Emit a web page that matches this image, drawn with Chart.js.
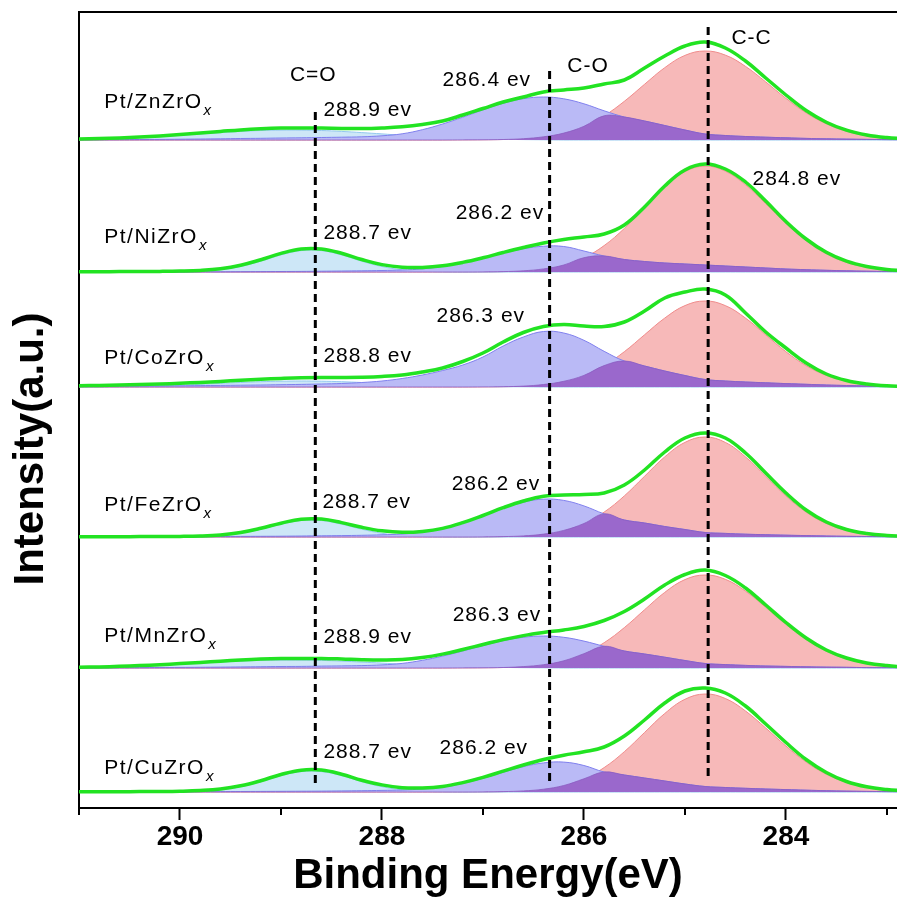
<!DOCTYPE html>
<html>
<head>
<meta charset="utf-8">
<title>C 1s XPS</title>
<script src="https://cdn.jsdelivr.net/npm/chart.js@4.4.1/dist/chart.umd.min.js"></script>
<style>
  body { margin: 0; background: #fff; }
</style>
</head>
<body>
<canvas id="xps" width="897" height="902"></canvas>
<script>
// binding energy grid (eV), shared by every curve
const energies = [291.0, 290.8, 290.6, 290.4, 290.2, 290.0, 289.8, 289.6, 289.4, 289.2,
                  289.0, 288.8, 288.6, 288.4, 288.2, 288.0, 287.8, 287.6, 287.4, 287.2,
                  287.0, 286.8, 286.6, 286.4, 286.2, 286.0, 285.8, 285.6, 285.4, 285.2,
                  285.0, 284.8, 284.6, 284.4, 284.2, 284.0, 283.8, 283.6, 283.4, 283.2,
                  283.0, 282.8];

const sampleNames = ['Pt/ZnZrO', 'Pt/NiZrO', 'Pt/CoZrO', 'Pt/FeZrO', 'Pt/MnZrO', 'Pt/CuZrO'];
// vertical stacking offset of each spectrum (a.u.)
const offsets = [668, 536, 421, 271, 140, 16];

// Pt/ZnZrOx
const ccZn  = [0,0,0,0,0,0,0,0,0,0,0,0,0,0,0,0,0,0,0,0.1,0.2,0.5,1.3,3.2,6.9,13.7,24.2,38.7,55.7,72.3,84.6,89,84.9,73.6,58.1,41.7,27.2,16.2,8.7,4.3,2.0,0.8];
const coZn  = [0.2,0.3,0.4,0.5,0.6,0.8,1.0,1.2,1.5,1.7,2.0,2.2,2.5,2.8,3.2,4.2,6.2,10.3,16.0,22.8,30.1,36.7,41.3,43,41.2,36.2,29.2,23,19,14.5,10,6,4.5,3.5,2.8,2.2,1.6,1.2,0.9,0.6,0.4,0.3];
const cdoZn = [0.7,1.1,1.7,2.5,3.5,4.7,6.1,7.4,8.6,9.5,9.9,9.9,9.5,8.6,7.4,6.1,4.7,3.5,2.5,1.7,1.1,0.7,0.4,0.2,0,0,0,0,0,0,0,0,0,0,0,0,0,0,0,0,0,0];
const envZn = [1.0,1.4,2.1,3.0,4.1,5.5,7.1,8.6,10.1,11.2,11.9,12.1,12.0,11.6,11.4,12.0,13.2,15.5,19,25,31.5,38,43,48,50,52,56,60,72,84,94,98,92,79,62,45,29.5,17.8,9.8,5,2.4,1.1];

// Pt/NiZrOx
const ccNi  = [0,0,0,0,0,0,0,0,0,0,0,0,0,0,0,0,0,0,0,0,0.1,0.4,1.2,3.1,7.0,14.3,26.4,43.6,64.3,84.9,100.3,106,100.9,87.3,68.3,48.5,31.3,18.2,9.6,4.7,2.0,0.8];
const coNi  = [0.1,0.1,0.1,0.1,0.1,0.1,0.2,0.2,0.3,0.4,0.5,0.6,0.8,1.0,1.2,1.5,2,3.1,5.7,9.4,14.0,19.0,23.2,25.8,25.5,21,16,12.5,10.5,9,8,7,6,5,4,3,2.3,1.7,1.2,0.8,0.5,0.3];
const cdoNi = [0,0,0,0,0,0.2,0.7,2.2,5.5,10.8,17.1,21.4,21.4,17.1,10.8,5.5,2.2,0.7,0.2,0,0,0,0,0,0,0,0,0,0,0,0,0,0,0,0,0,0,0,0,0,0,0];
const envNi = [0.3,0.3,0.4,0.5,0.6,0.9,1.6,3.3,6.8,12.3,18.6,23,23,18.7,12.5,7.4,4.8,4.6,6.2,9.6,14.2,19.5,24.5,29,32.5,35,38,47,65,86,102,108,103,90,71,50.5,33,19.7,10.8,5.5,2.5,1.1];

// Pt/CoZrOx
const ccCo  = [0,0,0,0,0,0,0,0,0,0,0,0,0,0,0,0,0,0,0,0,0.1,0.3,0.9,2.5,5.7,11.6,21.4,35.3,52.2,68.9,81.4,86,81.4,68.9,52.2,35.3,21.4,11.6,5.7,2.5,0.9,0.3];
const coCo  = [0.6,0.7,0.8,0.9,1.0,1.2,1.4,1.6,1.8,2,2.3,2.6,3,3.5,4.5,6,8.5,12,16.5,22,30,41,50,55.5,54,46.7,35.7,26,21,16,11.5,7.5,6,5,4.2,3.4,2.7,2,1.5,1.1,0.8,0.5];
const cdoCo = [0.2,0.3,0.5,0.8,1.3,1.9,2.7,3.6,4.5,5.3,5.8,6,5.8,5.3,4.5,3.6,2.7,1.9,1.3,0.8,0.5,0.3,0.2,0,0,0,0,0,0,0,0,0,0,0,0,0,0,0,0,0,0,0];
const envCo = [1.2,1.6,2,2.4,3,3.7,4.6,5.6,6.7,7.7,8.6,9.3,9.6,9.6,9.8,10.5,12,15,19,25.5,34,45,54.5,60.5,62.5,61,60.5,65,76,89,95,98,92,74,55,39,24,13,6.5,3,1.2,0.5];

// Pt/FeZrOx
const ccFe  = [0,0,0,0,0,0,0,0,0,0,0,0,0,0,0,0,0,0,0,0,0.1,0.4,1.1,2.9,6.6,13.5,24.9,41.1,60.7,80.1,94.6,100,94.6,80.1,60.7,41.1,24.9,13.5,6.6,2.9,1.1,0.4];
const coFe  = [0.1,0.1,0.2,0.2,0.3,0.3,0.4,0.5,0.6,0.7,0.8,1.0,1.2,1.4,1.7,2.2,3,5,8.2,13.9,21.1,28.7,34.8,37.9,36.6,31.1,23.1,17,14,10.5,7.5,4.5,3.6,2.8,2.3,1.8,1.4,1.0,0.7,0.5,0.3,0.2];
const cdoFe = [0,0,0,0,0,0.1,0.4,1.4,3.7,7.8,12.8,16.5,16.5,12.8,7.8,3.7,1.4,0.4,0.1,0,0,0,0,0,0,0,0,0,0,0,0,0,0,0,0,0,0,0,0,0,0,0];
const envFe = [0.3,0.3,0.3,0.4,0.5,0.6,1.0,2.1,4.5,8.7,13.8,17.8,17.9,14.4,9.7,6.2,4.7,5.6,8.6,14.3,21.5,29.3,36,40.8,42,42.5,44,52,67,85,99,104,99,84,64,44,27,15,7.5,3.5,1.5,0.6];

// Pt/MnZrOx
const ccMn  = [0,0,0,0,0,0,0,0,0,0,0,0,0,0,0,0,0,0,0,0.1,0.2,0.5,1.4,3.3,7.2,14.3,25.3,40.4,58.2,75.6,88.4,93,88.7,76.9,60.7,43.6,28.4,16.9,9.1,4.5,2.1,0.8];
const coMn  = [0.15,0.22,0.3,0.37,0.45,0.6,0.74,0.9,1.1,1.3,1.5,1.6,1.9,2.1,2.4,3.1,4.6,7.7,11.9,17,22.4,27.3,30.7,32,30.7,26.9,21.7,17,14,10.8,7.5,4.5,3.4,2.6,2,1.6,1.2,0.9,0.7,0.4,0.3,0.2];
const cdoMn = [0.6,0.9,1.4,2,2.8,3.8,4.9,5.9,6.9,7.6,7.9,7.9,7.6,6.9,5.9,4.9,3.8,2.8,2,1.4,0.9,0.6,0.3,0.2,0,0,0,0,0,0,0,0,0,0,0,0,0,0,0,0,0,0];
const envMn = [0.8,1.1,1.7,2.4,3.3,4.4,5.6,6.8,8.0,8.9,9.4,9.5,9.5,9.0,8.3,8.0,8.4,10.5,13.9,18.5,23.5,28.4,32.4,35.5,38,41.5,47.5,56.5,69,83,93.5,98,92.5,80,63,45.5,30,18,10,5,2.4,1.0];

// Pt/CuZrOx
const ccCu  = [0,0,0,0,0,0,0,0,0,0,0,0,0,0,0,0,0,0,0,0,0.1,0.4,1.1,2.8,6.5,13.2,24.4,40.3,59.5,78.5,92.7,98,93.5,81,64,46,30,17.8,9.6,4.7,2.2,0.9];
const coCu  = [0.1,0.1,0.15,0.2,0.25,0.3,0.35,0.4,0.5,0.6,0.7,0.8,0.9,1.1,1.3,1.6,2,3,4.8,8.6,13.7,19.7,25.3,29.1,29.9,26.5,20,17,14,11,8,5.5,4.5,3.7,3,2.4,1.8,1.3,0.9,0.6,0.4,0.2];
const cdoCu = [0,0,0,0,0,0.2,0.7,2.1,5.3,10.3,16.4,20.4,20.4,16.4,10.3,5.3,2.1,0.7,0.2,0,0,0,0,0,0,0,0,0,0,0,0,0,0,0,0,0,0,0,0,0,0,0];
const envCu = [0.2,0.2,0.3,0.4,0.5,0.8,1.5,3,6.2,11.3,17.5,21.8,21.9,17.8,11.8,7.1,4.3,4,5.5,9.4,14.6,20.8,27,32.5,36.8,40.2,45,56,72,89,101,104,99,86,68,49.5,32.5,19.5,10.5,5.2,2.5,1];

// reference peak positions (dashed lines)
const refEnergies = [288.66, 286.34, 284.77];
const refTop = [696, 737, 781];
const refBottom = [23, 26, 32];

// peak text labels: [text, energy, intensity]
const peakLabels = [
  ['288.9 ev', 288.58, 698], ['286.4 ev', 287.40, 728],
  ['288.7 ev', 288.58, 575], ['286.2 ev', 287.27, 595], ['284.8 ev', 284.33, 629],
  ['288.8 ev', 288.58, 452], ['286.3 ev', 287.46, 492],
  ['288.7 ev', 288.59, 306], ['286.2 ev', 287.31, 324],
  ['288.9 ev', 288.58, 171], ['286.3 ev', 287.30, 193],
  ['288.7 ev', 288.58, 56],  ['286.2 ev', 287.43, 60]
];
const bondLabels = [['C=O', 288.68, 733], ['C-O', 285.96, 742], ['C-C', 284.34, 770]];
const sampleLabelE = 290.75;
const sampleLabelY = [706, 571, 450, 303, 172, 40];

const panels = [
  { cc: ccZn, co: coZn, cdo: cdoZn, env: envZn },
  { cc: ccNi, co: coNi, cdo: cdoNi, env: envNi },
  { cc: ccCo, co: coCo, cdo: cdoCo, env: envCo },
  { cc: ccFe, co: coFe, cdo: cdoFe, env: envFe },
  { cc: ccMn, co: coMn, cdo: cdoMn, env: envMn },
  { cc: ccCu, co: coCu, cdo: cdoCu, env: envCu }
];

const FONT = 'Arial, "Liberation Sans", sans-serif';

function pts(arr, off) {
  return energies.map((e, i) => ({ x: e, y: off + arr[i] }));
}

const datasets = [];
panels.forEach((p, k) => {
  const off = offsets[k];
  // overlap of C-O and C-C areas
  const ov = p.co.map((v, i) => Math.min(v, p.cc[i]));
  datasets.push({ data: pts(p.cc, off), fill: { value: off }, backgroundColor: '#f7b9b9', borderColor: '#f08c8c', borderWidth: 1, order: 5 });
  datasets.push({ data: pts(p.cdo, off), fill: { value: off }, backgroundColor: '#cde7f7', borderColor: '#93c8ee', borderWidth: 1, order: 4 });
  datasets.push({ data: pts(p.co, off), fill: { value: off }, backgroundColor: '#babaf6', borderColor: '#8080ee', borderWidth: 1, order: 3 });
  datasets.push({ data: pts(ov, off), fill: { value: off }, backgroundColor: '#9a68cc', borderColor: '#8a5cc0', borderWidth: 0.8, order: 2 });
  datasets.push({ data: pts(p.env, off), fill: false, borderColor: '#22e322', borderWidth: 3.5, order: 1 });
});
refEnergies.forEach((e, j) => {
  datasets.push({
    data: [{ x: e, y: refTop[j] }, { x: e, y: refBottom[j] }],
    borderColor: '#000', borderWidth: 3, borderDash: [8, 5], tension: 0, fill: false, order: 0
  });
});

const decor = {
  id: 'decor',
  afterDraw(chart) {
    const { ctx, chartArea: a, scales: { x, y } } = chart;
    ctx.save();
    // top frame line
    ctx.strokeStyle = '#000';
    ctx.lineWidth = 2;
    ctx.beginPath();
    ctx.moveTo(a.left - 1, a.top);
    ctx.lineTo(a.right, a.top);
    ctx.stroke();
    // minor ticks at odd energies
    for (let v = 283; v <= 291; v += 2) {
      const px = Math.round(x.getPixelForValue(v));
      ctx.beginPath();
      ctx.moveTo(px, a.bottom);
      ctx.lineTo(px, a.bottom + 7);
      ctx.stroke();
    }
    ctx.fillStyle = '#000';
    ctx.textBaseline = 'middle';
    // peak position labels
    ctx.font = '21px ' + FONT;
    ctx.letterSpacing = '1px';
    ctx.textAlign = 'left';
    peakLabels.forEach(([t, e, v]) => ctx.fillText(t, x.getPixelForValue(e), y.getPixelForValue(v)));
    ctx.textAlign = 'center';
    bondLabels.forEach(([t, e, v]) => ctx.fillText(t, x.getPixelForValue(e), y.getPixelForValue(v)));
    // sample names with italic subscript x
    ctx.textAlign = 'left';
    ctx.letterSpacing = '1.5px';
    sampleNames.forEach((n, k) => {
      const px = x.getPixelForValue(sampleLabelE);
      const py = y.getPixelForValue(sampleLabelY[k]);
      ctx.font = '21px ' + FONT;
      ctx.fillText(n, px, py);
      const w = ctx.measureText(n).width;
      ctx.font = 'italic 15px ' + FONT;
      ctx.fillText('x', px + w + 1, py + 9);
    });
    ctx.letterSpacing = '0px';
    // y axis title
    ctx.translate(31, 449);
    ctx.rotate(-Math.PI / 2);
    ctx.font = 'bold 42px ' + FONT;
    ctx.textAlign = 'center';
    ctx.fillText('Intensity(a.u.)', 0, 0);
    ctx.restore();
  }
};

new Chart(document.getElementById('xps'), {
  type: 'line',
  data: { datasets: datasets },
  options: {
    responsive: false,
    animation: false,
    devicePixelRatio: 1,
    layout: { padding: { top: 12, right: 0, left: 0, bottom: 0 } },
    elements: { point: { radius: 0 }, line: { tension: 0.4 } },
    plugins: { legend: { display: false }, tooltip: { enabled: false } },
    scales: {
      x: {
        type: 'linear',
        reverse: true,
        min: 282.9,
        max: 291,
        afterFit: s => { s.height = 94; },
        border: { color: '#000', width: 2 },
        grid: {
          drawOnChartArea: false,
          drawTicks: true,
          tickLength: 12,
          tickWidth: 2,
          tickColor: c => (c.tick && c.tick.value % 2 === 0) ? '#000' : 'rgba(0,0,0,0)'
        },
        ticks: {
          stepSize: 1,
          includeBounds: false,
          autoSkip: false,
          maxRotation: 0,
          padding: 0,
          color: '#000',
          font: { family: FONT, size: 28, weight: 'bold' },
          callback: v => (v % 2 === 0 ? String(v) : '')
        },
        title: {
          display: true,
          text: 'Binding Energy(eV)',
          color: '#000',
          font: { family: FONT, size: 42, weight: 'bold' },
          padding: { top: 0, bottom: 0 }
        }
      },
      y: {
        min: 0,
        max: 796,
        afterFit: s => { s.width = 79; },
        border: { color: '#000', width: 2 },
        grid: { display: false },
        ticks: { display: false }
      }
    }
  },
  plugins: [decor]
});
</script>
</body>
</html>
